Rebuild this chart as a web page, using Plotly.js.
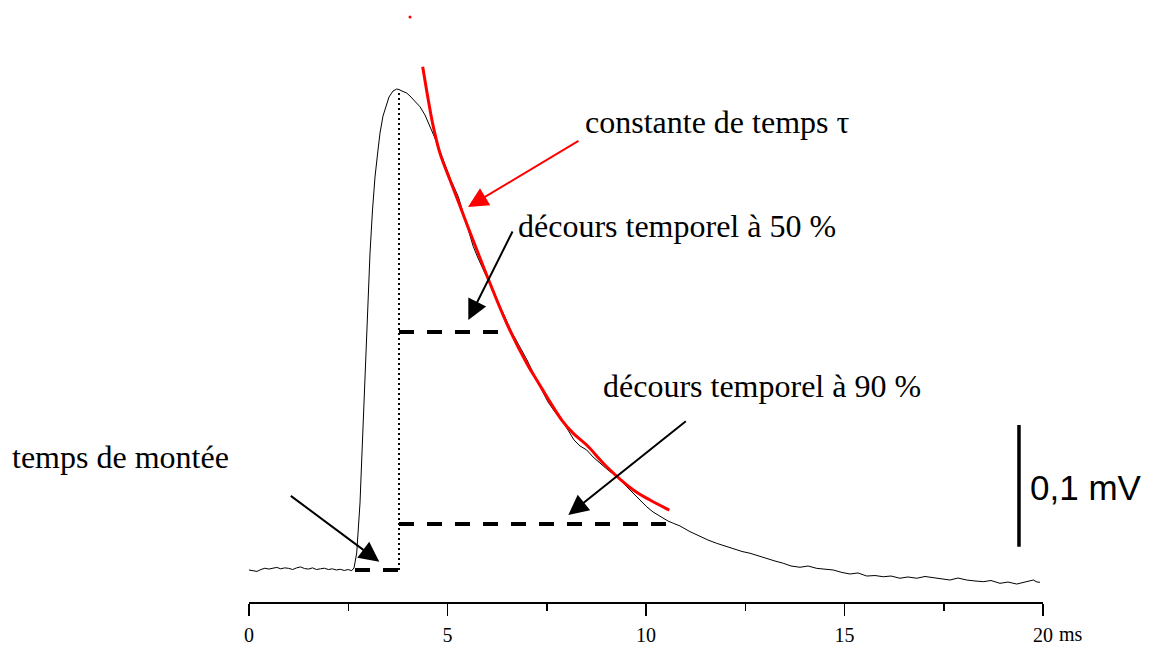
<!DOCTYPE html>
<html>
<head>
<meta charset="utf-8">
<script src="https://cdn.plot.ly/plotly-3.0.1.min.js"></script>
<style>html,body{margin:0;padding:0;background:#fff;}#chart{width:1154px;height:651px;}</style>
</head>
<body>
<div id="chart"></div>
<script>
// ---- recorded trace (time in ms, amplitude in mV above baseline) ----
const timeMs = [
  0.0,0.1,0.2,0.3,0.4,0.5,0.6,0.7,0.8,0.9,1.0,1.1,1.2,1.3,1.4,1.5,1.6,1.7,1.8,1.9,2.0,2.1,2.2,2.3,2.4,2.5,
  2.587,2.645,2.713,2.758,2.796,2.839,2.879,2.947,3.048,3.111,3.174,3.249,3.300,3.375,3.469,3.526,3.577,3.627,3.720,
  3.778,3.854,3.972,4.055,4.156,4.307,4.433,4.559,4.610,4.736,4.894,5.063,5.272,5.398,5.516,5.650,5.768,5.902,6.020,
  6.154,6.272,6.406,6.499,6.617,6.700,6.826,7.003,7.204,7.380,7.531,7.708,7.877,8.035,8.186,8.338,8.506,8.665,8.841,
  9.043,9.262,9.446,9.680,9.849,10.018,10.176,10.302,10.436,10.554,10.688,10.856,11.108,11.360,11.562,11.781,11.990,
  12.199,12.418,12.620,12.821,13.040,13.249,13.458,13.652,13.879,14.081,14.300,14.509,14.718,14.937,15.139,15.340,
  15.559,15.768,15.977,16.171,16.398,16.599,16.819,17.028,17.237,17.431,17.657,17.859,18.078,18.287,18.496,18.690,
  18.917,19.118,19.338,19.547,19.756,19.849,19.924
];
const amplitudeMv = [
  0.0,-0.0008,-0.0012,0.0004,0.0015,0.0008,0.0012,0.0022,0.0010,0.0018,0.0014,0.0004,0.0018,0.0026,0.0012,0.0008,0.0018,0.0004,0.0010,0.0015,0.0004,0.0010,0.0,0.0006,-0.0004,0.0004,
  -0.0006,0.0017,0.0144,0.0339,0.0568,0.0932,0.1271,0.1907,0.2686,0.3051,0.3331,0.3559,0.3703,0.3847,0.3958,0.4008,0.4034,0.4059,0.4076,
  0.4072,0.4059,0.4042,0.4017,0.3983,0.3926,0.3856,0.3757,0.3720,0.3619,0.3475,0.3322,0.3164,0.3023,0.2890,0.2740,0.2644,0.2542,0.2458,
  0.2373,0.2271,0.2175,0.2102,0.2014,0.1966,0.1892,0.1780,0.1638,0.1525,0.1424,0.1339,0.1271,0.1186,0.1102,0.1051,0.1017,0.0958,0.0904,
  0.0847,0.0791,0.0729,0.0650,0.0593,0.0536,0.0492,0.0466,0.0438,0.0415,0.0396,0.0373,0.0325,0.0282,0.0254,0.0226,0.0203,
  0.0184,0.0157,0.0142,0.0119,0.0099,0.0076,0.0057,0.0034,0.0023,0.0034,0.0014,0.0004,0.0,-0.0021,-0.0034,-0.0025,
  -0.0051,-0.0047,-0.0057,-0.0051,-0.0070,-0.0059,-0.0070,-0.0055,-0.0065,-0.0072,-0.0085,-0.0068,-0.0085,-0.0093,-0.0099,-0.0089,
  -0.0113,-0.0102,-0.0119,-0.0102,-0.0085,-0.0102,-0.0104
];

// ---- exponential fit (tau) ----
const fitTimeMs = [4.375,4.516,4.642,4.811,5.063,5.315,5.484,5.650,5.987,6.491,6.995,7.247,7.877,8.169,8.506,9.010,9.680,10.101,10.587];
const fitAmplitudeMv = [0.4265,0.3983,0.3757,0.3531,0.3305,0.3085,0.2935,0.2790,0.2500,0.2091,0.1752,0.1610,0.1271,0.1158,0.1059,0.0875,0.0678,0.0593,0.0508];
const fitStrayTimeMs = [4.055];
const fitStrayMv = [0.4686];

// ---- measurement markers ----
const peakTimeMs = 3.778;
const peakMv = 0.4068;
const riseStartMs = 2.670;
const decay50EndMs = 6.322;
const decay50Mv = 0.2017;
const decay90EndMs = 10.554;
const decay90Mv = 0.0390;

// ---- scale bar ----
const scaleBarTimeMs = 19.395;
const scaleBarMv = [0.0197, 0.1229];
const scaleBarLabel = "0,1 mV";

// ---- axis ----
const tickVals = [0, 5, 10, 15, 20];
const tickLabels = ["0", "5", "10", "15", "20"];
const axisUnit = "ms";

// ---- labels ----
const labels = {
  tau: "constante de temps τ",
  d50: "décours temporel à 50 %",
  d90: "décours temporel à 90 %",
  rise: "temps de montée"
};

const serif = "Liberation Serif, Times New Roman, serif";
const dashStyle = "15px,13px";

const traces = [
  {x: timeMs, y: amplitudeMv, mode: "lines", line: {color: "#000", width: 1}, hoverinfo: "skip"},
  {x: fitTimeMs, y: fitAmplitudeMv, mode: "lines", line: {color: "#ff0000", width: 3, shape: "spline", smoothing: 1}, hoverinfo: "skip"},
  {x: fitStrayTimeMs, y: fitStrayMv, mode: "markers", marker: {color: "#ff0000", size: 3}, hoverinfo: "skip"},
  {x: [peakTimeMs, peakTimeMs], y: [0, peakMv], mode: "lines", line: {color: "#000", width: 2, dash: "2px,3px"}, hoverinfo: "skip"},
  {x: [riseStartMs, peakTimeMs], y: [0, 0], mode: "lines", line: {color: "#000", width: 4, dash: dashStyle}, hoverinfo: "skip"},
  {x: [peakTimeMs, decay50EndMs], y: [decay50Mv, decay50Mv], mode: "lines", line: {color: "#000", width: 4, dash: dashStyle}, hoverinfo: "skip"},
  {x: [peakTimeMs, decay90EndMs], y: [decay90Mv, decay90Mv], mode: "lines", line: {color: "#000", width: 4, dash: dashStyle}, hoverinfo: "skip"},
  {x: [scaleBarTimeMs, scaleBarTimeMs], y: scaleBarMv, mode: "lines", line: {color: "#000", width: 3.5}, hoverinfo: "skip"}
];

const arrow = (x, y, ax, ay, color) => ({
  x: x, y: y, xref: "x", yref: "y", ax: ax, ay: ay, axref: "pixel", ayref: "pixel",
  text: "", showarrow: true, arrowhead: 2, arrowsize: 2, arrowwidth: 2, arrowcolor: color, standoff: 0, startstandoff: 0
});

const labelFont = {family: serif, size: 32, color: "#000"};

const annotations = [
  arrow(5.516, 0.3076, 112, -67, "#ff0000"),
  arrow(5.524, 0.2119, 45, -90, "#000"),
  arrow(8.043, 0.0466, 119, -95, "#000"),
  arrow(3.282, 0.0070, -90, -67, "#000"),
  {x: 8.413, y: 0.3797, xref: "x", yref: "y", text: labels.tau, showarrow: false, xanchor: "left", yanchor: "middle", font: labelFont},
  {x: 6.726, y: 0.2915, xref: "x", yref: "y", text: labels.d50, showarrow: false, xanchor: "left", yanchor: "middle", font: labelFont},
  {x: 8.867, y: 0.1559, xref: "x", yref: "y", text: labels.d90, showarrow: false, xanchor: "left", yanchor: "middle", font: labelFont},
  {x: -0.3010, y: 0.0958, xref: "paper", yref: "y", text: labels.rise, showarrow: false, xanchor: "left", yanchor: "middle", font: labelFont},
  {x: 19.610, y: 0.0703, xref: "x", yref: "y", text: scaleBarLabel, showarrow: false, xanchor: "left", yanchor: "middle", font: {family: "Liberation Sans, Arial, sans-serif", size: 35, color: "#000"}},
  {x: 1.0175, y: -0.0532, xref: "paper", yref: "paper", text: axisUnit, showarrow: false, xanchor: "left", yanchor: "middle", font: {family: serif, size: 20, color: "#000"}}
];

const layout = {
  width: 1154, height: 651,
  margin: {l: 249, r: 111, t: 0, b: 49, pad: 0},
  paper_bgcolor: "#fff", plot_bgcolor: "#fff",
  showlegend: false,
  xaxis: {
    range: [0, 20], showgrid: false, zeroline: false,
    showline: true, linecolor: "#000", linewidth: 2,
    ticks: "outside", ticklen: 12, tickwidth: 1.5, tickcolor: "#000",
    tickvals: tickVals, ticktext: tickLabels,
    tickfont: {family: serif, size: 20, color: "#000"},
    ticklabelstandoff: 2,
    minor: {dtick: 2.5, tick0: 0, ticks: "outside", ticklen: 7, tickwidth: 1.5, tickcolor: "#000", showgrid: false}
  },
  yaxis: {range: [-0.02712, 0.48305], visible: false, showgrid: false, zeroline: false},
  annotations: annotations
};

Plotly.newPlot("chart", traces, layout, {displayModeBar: false, staticPlot: true});
</script>
</body>
</html>
